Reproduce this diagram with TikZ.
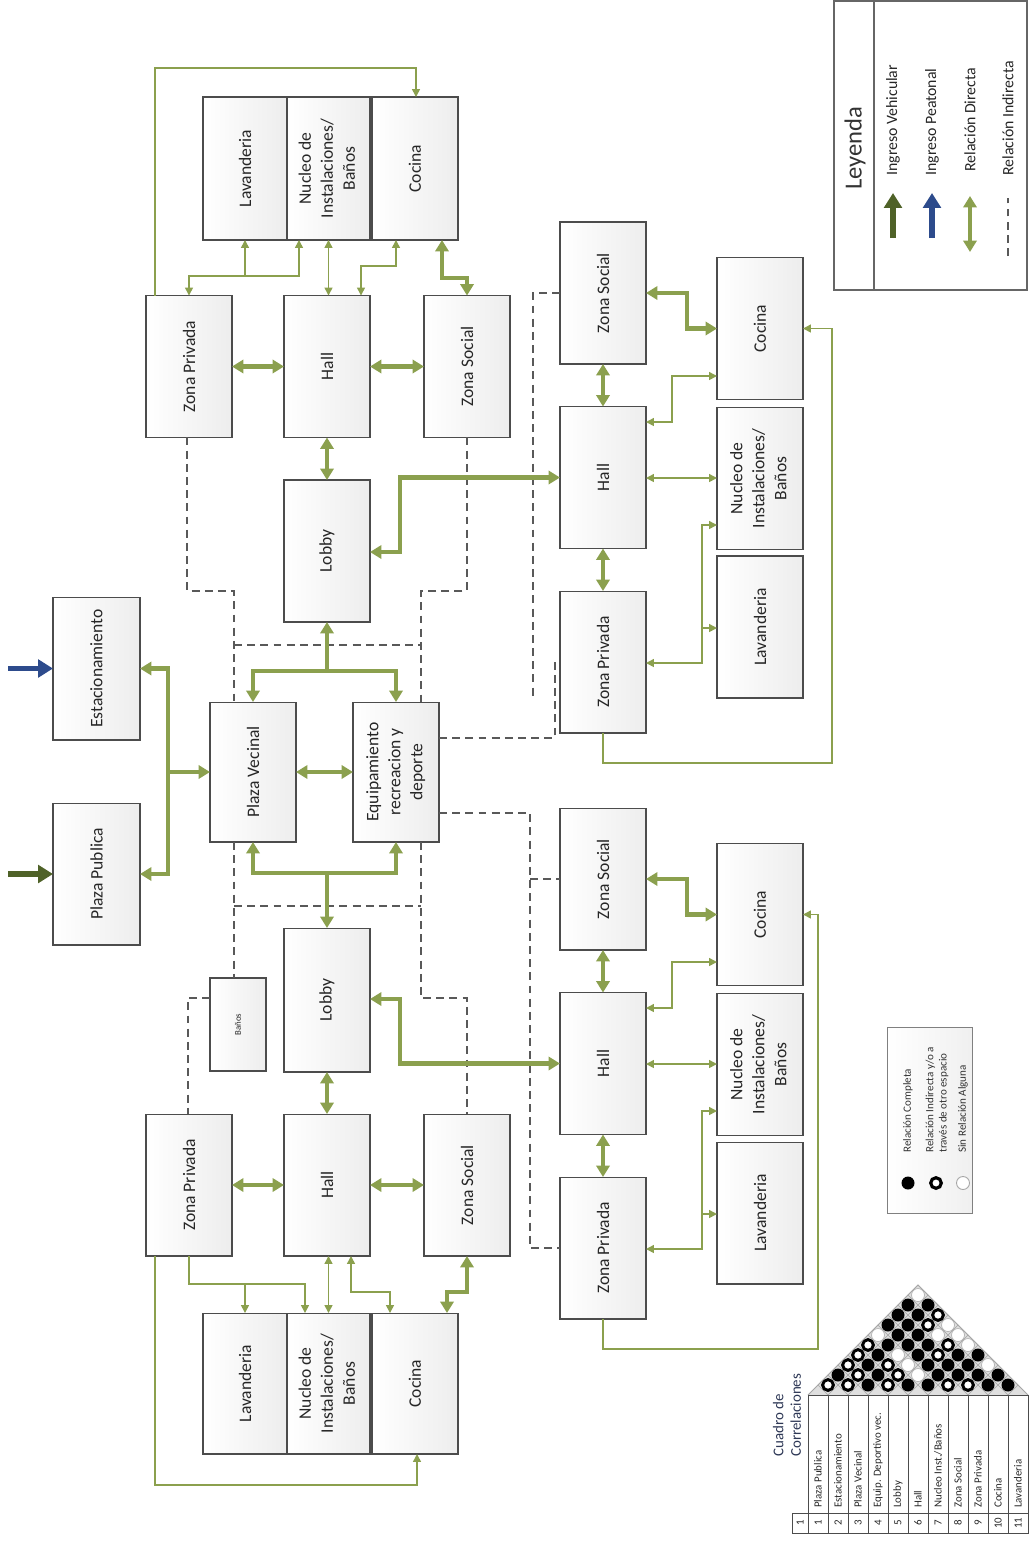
\documentclass[tikz,border=0pt]{standalone}
\usepackage{fontspec}
\setmainfont{Carlito}
\usetikzlibrary{arrows.meta}
\definecolor{relgreen}{RGB}{139,160,78}
\definecolor{vehgreen}{RGB}{79,98,40}
\definecolor{peablue}{RGB}{45,75,140}
\definecolor{titleblue}{RGB}{45,55,85}
\newcommand\corrrow[2]{%
  \foreach \ctype [count=\cj from 0] in {#2} {%
    \pgfmathsetmacro\corrx{818+10*#1+20*\cj}%
    \pgfmathsetmacro\corry{1395-10*#1}%
    \draw[gray!70, fill=gray!25, line width=0.3pt] (\corrx-10,\corry) -- (\corrx,\corry-10) -- (\corrx+10,\corry) -- (\corrx,\corry+10) -- cycle;
    \if b\ctype \fill[black] (\corrx,\corry) circle (6.5); \fi
    \if r\ctype \draw[black, line width=1.7pt, fill=white] (\corrx,\corry) circle (5.4); \fi
    \if w\ctype \draw[gray!60, line width=0.4pt, fill=white] (\corrx,\corry) circle (6.5); \fi
  }}
\begin{document}
\begin{tikzpicture}[x=0.02cm,y=-0.02cm,
  box/.style={draw=black!70, line width=0.6pt, inner sep=0pt, outer sep=0pt,
    left color=white, right color=black!7, text=black!85,
    font=\fontsize{10}{12.5}\selectfont, minimum width=1.72cm, minimum height=2.84cm},
  T/.style={draw=relgreen, line width=2.3pt, >={Triangle[length=6.5pt,width=7.5pt]}},
  tn/.style={draw=relgreen, line width=0.85pt, >={Triangle[length=4.5pt,width=4.5pt]}},
  ind/.style={draw=black!65, line width=0.7pt, dash pattern=on 4.5pt off 3pt},
  ing/.style={line width=3.2pt, -{Triangle[length=8.5pt,width=10pt]}},
  lg/.style={rotate=90, inner sep=0pt, text=black!85, font=\fontsize{9}{11}\selectfont},
  sl/.style={rotate=90, inner sep=0pt, text=black!80, font=\fontsize{6.3}{7.5}\selectfont, align=left},
  tbl/.style={rotate=90, inner sep=0pt, text=black!85, font=\fontsize{6.2}{7}\selectfont},
]
\useasboundingbox (0,0) rectangle (1029,1560);

% ---------- entrance boxes
\node[box, minimum width=1.74cm, minimum height=2.86cm] (E1) at (96.5,668.5) {\rotatebox{90}{Estacionamiento}};
\node[box, minimum width=1.74cm] (P1) at (96.5,874) {\rotatebox{90}{Plaza Publica}};

% ---------- upper-left cluster
\node[box, minimum width=1.68cm, minimum height=2.86cm] (A-lav) at (245,168.5) {\rotatebox{90}{Lavanderia}};
\node[box, minimum width=1.66cm, minimum height=2.86cm] (A-nuc) at (328.5,168.5) {\rotatebox{90}{\begin{tabular}{@{}c@{}}Nucleo de\\Instalaciones/\\Baños\end{tabular}}};
\node[box, minimum height=2.86cm] (A-coc) at (415,168.5) {\rotatebox{90}{Cocina}};
\node[box] (A-zp) at (189,366.5) {\rotatebox{90}{Zona Privada}};
\node[box] (A-hall) at (327,366.5) {\rotatebox{90}{Hall}};
\node[box] (A-zs) at (467,366.5) {\rotatebox{90}{Zona Social}};
\node[box] (A-lobby) at (327,551) {\rotatebox{90}{Lobby}};

% ---------- middle
\node[box, minimum height=2.8cm] (PV) at (253,772) {\rotatebox{90}{Plaza Vecinal}};
\node[box, minimum height=2.8cm] (EQ) at (396,772) {\rotatebox{90}{\begin{tabular}{@{}c@{}}Equipamiento\\recreacion y\\deporte\end{tabular}}};

% ---------- lower-left cluster
\node[box, minimum width=1.12cm, minimum height=1.86cm, font=\fontsize{5}{6}\selectfont] (B-banos) at (238,1024.5) {\rotatebox{90}{Baños}};
\node[box, minimum height=2.88cm] (B-lobby) at (327,1000) {\rotatebox{90}{Lobby}};
\node[box] (B-zp) at (189,1185) {\rotatebox{90}{Zona Privada}};
\node[box] (B-hall) at (327,1185) {\rotatebox{90}{Hall}};
\node[box] (B-zs) at (467,1185) {\rotatebox{90}{Zona Social}};
\node[box, minimum width=1.68cm, minimum height=2.82cm] (B-lav) at (245,1383.5) {\rotatebox{90}{Lavanderia}};
\node[box, minimum width=1.66cm, minimum height=2.82cm] (B-nuc) at (328.5,1383.5) {\rotatebox{90}{\begin{tabular}{@{}c@{}}Nucleo de\\Instalaciones/\\Baños\end{tabular}}};
\node[box, minimum height=2.82cm] (B-coc) at (415,1383.5) {\rotatebox{90}{Cocina}};

% ---------- upper-right cluster
\node[box] (C-zs) at (603,293) {\rotatebox{90}{Zona Social}};
\node[box] (C-hall) at (603,477.5) {\rotatebox{90}{Hall}};
\node[box] (C-zp) at (603,662) {\rotatebox{90}{Zona Privada}};
\node[box] (C-coc) at (760,328.5) {\rotatebox{90}{Cocina}};
\node[box] (C-nuc) at (760,478.5) {\rotatebox{90}{\begin{tabular}{@{}c@{}}Nucleo de\\Instalaciones/\\Baños\end{tabular}}};
\node[box] (C-lav) at (760,627) {\rotatebox{90}{Lavanderia}};

% ---------- lower-right cluster
\node[box] (D-zs) at (603,879) {\rotatebox{90}{Zona Social}};
\node[box] (D-hall) at (603,1063.5) {\rotatebox{90}{Hall}};
\node[box] (D-zp) at (603,1248) {\rotatebox{90}{Zona Privada}};
\node[box] (D-coc) at (760,914.5) {\rotatebox{90}{Cocina}};
\node[box] (D-nuc) at (760,1064.5) {\rotatebox{90}{\begin{tabular}{@{}c@{}}Nucleo de\\Instalaciones/\\Baños\end{tabular}}};
\node[box] (D-lav) at (760,1213) {\rotatebox{90}{Lavanderia}};

% ---------- indirect relations (dashed)
\draw[ind] (187,0 |- A-zp.south) -- (187,591) -- (234,591) -- (234,0 |- PV.north);
\draw[ind] (234,645) -- (421,645);
\draw[ind] (467,0 |- A-zs.south) -- (467,591) -- (421,591) -- (421,0 |- EQ.north);
\draw[ind] (C-zs.west) -- (533,293) -- (533,697);
\draw[ind] (EQ.east |- 0,738) -- (555,738) -- (555,663) -- (C-zp.west |- 0,663);
\draw[ind] (EQ.east |- 0,813) -- (530,813) -- (530,1248) -- (D-zp.west);
\draw[ind] (530,879) -- (D-zs.west);
\draw[ind] (234,0 |- PV.south) -- (234,0 |- B-banos.north);
\draw[ind] (234,906) -- (421,906);
\draw[ind] (421,0 |- EQ.south) -- (421,998) -- (467,998) -- (467,0 |- B-zs.north);
\draw[ind] (B-banos.west |- 0,998) -- (188,998) -- (188,0 |- B-zp.north);

% ---------- entrances
\coordinate (peain) at (8,668.5);
\coordinate (vehin) at (8,874);
\draw[ing, draw=peablue, fill=peablue] (peain) -- (E1.west);
\draw[ing, draw=vehgreen, fill=vehgreen] (vehin) -- (P1.west);
\coordinate (j1) at (168,772);
\draw[T,<->] (E1.east) -- (168,0 |- E1.east) -- (168,0 |- P1.east) -- (P1.east);
\draw[T,->] (j1) -- (PV.west);

% ---------- middle connections
\coordinate (jt) at (327,671);
\coordinate (jb) at (327,873);
\draw[T,->] (jt) -- (A-lobby.south);
\draw[T,<->] (PV.north) -- (PV.north |- jt) -- (EQ.north |- jt) -- (EQ.north);
\draw[T,->] (jb) -- (B-lobby.north);
\draw[T,<->] (PV.south) -- (PV.south |- jb) -- (EQ.south |- jb) -- (EQ.south);
\draw[T,<->] (PV.east) -- (EQ.west);

% ---------- upper-left connections
\draw[T,<->] (A-zp.east) -- (A-hall.west);
\draw[T,<->] (A-hall.east) -- (A-zs.west);
\draw[T,<->] (A-hall.south) -- (A-lobby.north);
\draw[tn,<->] (A-nuc.south) -- (A-nuc.south |- A-hall.north);
\draw[tn,<->] (A-zp.north) -- (A-zp.north |- 0,276) -- (299,276) -- (299,0 |- A-nuc.south);
\draw[tn,->] (A-lav.south |- 0,276) -- (A-lav.south);
\draw[tn,<->] (361,0 |- A-hall.north) -- (361,266) -- (396,266) -- (396,0 |- A-coc.south);
\draw[T,<->] (442,0 |- A-coc.south) -- (442,278) -- (A-zs.north |- 0,278) -- (A-zs.north);
\draw[tn,->] (155,0 |- A-zp.north) -- (155,68) -- (416,68) -- (416,0 |- A-coc.north);

% ---------- lower-left connections
\draw[T,<->] (B-zp.east) -- (B-hall.west);
\draw[T,<->] (B-hall.east) -- (B-zs.west);
\draw[T,<->] (B-lobby.south) -- (B-hall.north);
\draw[tn,<->] (B-nuc.north) -- (B-nuc.north |- B-hall.south);
\draw[tn,->] (B-zp.south) -- (B-zp.south |- 0,1284) -- (305,1284) -- (305,0 |- B-nuc.north);
\draw[tn,->] (B-lav.north |- 0,1284) -- (B-lav.north);
\draw[tn,<->] (351,0 |- B-hall.south) -- (351,1292) -- (390,1292) -- (390,0 |- B-coc.north);
\draw[T,<->] (B-zs.south) -- (B-zs.south |- 0,1292) -- (447,1292) -- (447,0 |- B-coc.north);
\draw[tn,->] (155,0 |- B-zp.south) -- (155,1485) -- (417,1485) -- (417,0 |- B-coc.south);

% ---------- upper-right connections
\draw[T,<->] (C-zs.east) -- (687,0 |- C-zs.east) -- (687,0 |- C-coc.west) -- (C-coc.west);
\draw[T,<->] (C-zs.south) -- (C-hall.north);
\draw[T,<->] (C-hall.south) -- (C-zp.north);
\draw[tn,<->] (C-hall.east |- 0,422) -- (672,422) -- (672,376) -- (C-coc.west |- 0,376);
\draw[tn,<->] (C-hall.east |- 0,478) -- (C-nuc.west |- 0,478);
\draw[tn,<->] (C-zp.east |- 0,663) -- (702,663) -- (702,525) -- (C-nuc.west |- 0,525);
\draw[tn,->] (702,628) -- (C-lav.west |- 0,628);
\draw[tn,->] (C-zp.south) -- (C-zp.south |- 0,763) -- (832,763) -- (832,0 |- C-coc.east) -- (C-coc.east);
\draw[T,<->] (A-lobby.east |- 0,552) -- (400,552) -- (400,0 |- C-hall.west) -- (C-hall.west);

% ---------- lower-right connections
\draw[T,<->] (D-zs.east) -- (687,0 |- D-zs.east) -- (687,0 |- D-coc.west) -- (D-coc.west);
\draw[T,<->] (D-zs.south) -- (D-hall.north);
\draw[T,<->] (D-hall.south) -- (D-zp.north);
\draw[tn,<->] (D-hall.east |- 0,1008) -- (672,1008) -- (672,962) -- (D-coc.west |- 0,962);
\draw[tn,<->] (D-hall.east |- 0,1064) -- (D-nuc.west |- 0,1064);
\draw[tn,<->] (D-zp.east |- 0,1249) -- (702,1249) -- (702,1111) -- (D-nuc.west |- 0,1111);
\draw[tn,->] (702,1214) -- (D-lav.west |- 0,1214);
\draw[tn,->] (D-zp.south) -- (D-zp.south |- 0,1349) -- (818,1349) -- (818,0 |- D-coc.east) -- (D-coc.east);
\draw[T,<->] (B-lobby.east |- 0,999) -- (400,999) -- (400,0 |- D-hall.west) -- (D-hall.west);

% ---------- legend
\draw[black!60, line width=0.8pt, fill=white] (834,1) rectangle (1027,290);
\draw[black!60, line width=0.8pt] (874,1) -- (874,290);
\node[rotate=90, inner sep=0pt, text=black!80, font=\fontsize{14}{16}\selectfont] (leyenda) at (855,148) {Leyenda};
\draw[ing, draw=vehgreen, fill=vehgreen] (893,238) -- (893,193);
\draw[ing, draw=peablue, fill=peablue] (932,238) -- (932,193);
\draw[T,<->] (970,252) -- (970,196);
\draw[ind] (1008,256) -- (1008,198);
\node[lg, anchor=west] (lg1) at (893,176) {Ingreso Vehicular};
\node[lg, anchor=west] (lg2) at (932,176) {Ingreso Peatonal};
\node[lg, anchor=west] (lg3) at (970,172) {Relación Directa};
\node[lg, anchor=west] (lg4) at (1008,176) {Relación Indirecta};

% ---------- small legend
\path[draw=black!50, line width=0.5pt, left color=white, right color=black!6] (887,1027) rectangle (972,1213);
\fill[black] (908,1183) circle (6.5);
\draw[black, line width=1.8pt, fill=white] (936,1183) circle (5.3);
\draw[gray!70, line width=0.5pt, fill=white] (963,1183) circle (6.5);
\node[sl, anchor=west] (sl1) at (908,1153) {Relación Completa};
\node[sl, anchor=west] (sl2) at (937,1153) {Relación Indirecta y/o a\\través de otro espacio};
\node[sl, anchor=west] (sl3) at (963,1153) {Sin Relación Alguna};

% ---------- correlation table
\node[rotate=90, anchor=west, align=left, inner sep=0pt, text=titleblue, font=\fontsize{8.5}{10}\selectfont] (ttl) at (787,1457) {Cuadro de\\Correlaciones};
\fill[gray!25] (808,1395) -- (918,1285) -- (1028,1395) -- cycle;
\corrrow{1}{r,r,b,r,b,b,r,r,b,b}
\corrrow{2}{b,r,b,r,w,b,b,b,b}
\corrrow{3}{r,b,r,w,b,b,b,w}
\corrrow{4}{r,b,w,b,r,b,b}
\corrrow{5}{r,b,b,b,r,w}
\corrrow{6}{w,b,b,w,w}
\corrrow{7}{b,b,r,w}
\corrrow{8}{b,b,r}
\corrrow{9}{b,b}
\corrrow{10}{w}
\draw[gray!70, line width=0.5pt] (808,1395) -- (918,1285) -- (1028,1395);
\draw[black!70, line width=0.5pt] (808,1395) rectangle (1028,1533);
\foreach \i in {1,...,10} \draw[black!70, line width=0.5pt] (808+20*\i,1395) -- (808+20*\i,1533);
\draw[black!70, line width=0.5pt] (808,1513) -- (1028,1513);
\draw[black!70, line width=0.5pt] (792,1513) rectangle (808,1533);
\node[tbl] (tb0) at (800,1523) {1};
\foreach \i/\lab in {1/{Plaza Publica},2/{Estacionamiento},3/{Plaza Vecinal},4/{Equip. Deportivo vec.},5/{Lobby},6/{Hall},7/{Nucleo Inst./Baños},8/{Zona Social},9/{Zona Privada},10/{Cocina},11/{Lavanderia}} {
  \node[tbl, anchor=west] (tl\i) at (798+20*\i,1508) {\lab};
  \node[tbl] (tn\i) at (798+20*\i,1523) {\i};
}
\end{tikzpicture}
\end{document}
